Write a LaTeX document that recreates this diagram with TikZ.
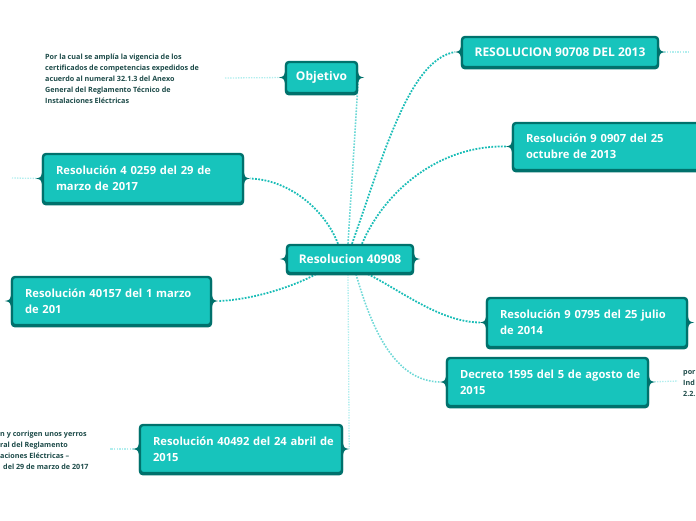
\documentclass[tikz,border=0pt]{standalone}
\usepackage{fontspec}
\setmainfont{Open Sans}
\usetikzlibrary{calc,backgrounds}
\definecolor{boxfill}{HTML}{17C4BC}
\definecolor{boxline}{HTML}{00716C}
\definecolor{ctxt}{HTML}{1C4A48}
\definecolor{lnka}{HTML}{1ABDB7}
\definecolor{lnkb}{HTML}{6DD8D6}
\definecolor{lnkc}{HTML}{B2EEEE}
\newcommand\bnotch[1]{%
  \fill[boxline] ($(#1.west)+(0.5,-6.5)$) .. controls ($(#1.west)+(-1,-1)$) .. ($(#1.west)+(-6,0)$)
     .. controls ($(#1.west)+(-1,1)$) .. ($(#1.west)+(0.5,6.5)$) -- cycle;
  \fill[boxline] ($(#1.east)+(-0.5,-6.5)$) .. controls ($(#1.east)+(1,-1)$) .. ($(#1.east)+(6,0)$)
     .. controls ($(#1.east)+(1,1)$) .. ($(#1.east)+(-0.5,6.5)$) -- cycle;}
\tikzset{
  bx/.style={fill=boxfill, draw=boxline, line width=2.4pt, rounded corners=3pt, text=white,
    preaction={draw=boxline, line width=2.4pt, transform canvas={yshift=-1.2pt}},
    font=\bfseries\fontsize{11.2}{16}\selectfont, align=left, inner xsep=13pt, inner ysep=0pt},
  bxc/.style={bx, align=center, inner xsep=0pt, font=\bfseries\fontsize{12}{16}\selectfont},
  note/.style={text=ctxt, font=\bfseries\fontsize{7.2}{11}\selectfont, align=left, inner sep=0pt},
  lka/.style={line width=1.8pt, dash pattern=on 1.8pt off 1.4pt, draw=lnka},
  lkb/.style={line width=1.6pt, dash pattern=on 1.6pt off 1.4pt, draw=lnkb},
  lkc/.style={line width=1.3pt, dash pattern=on 1.4pt off 1.2pt, draw=lnkc},
}
\begin{document}
\begin{tikzpicture}[x=1pt,y=-1pt]
\useasboundingbox (0,0) rectangle (696,520);
% boxes
\node[bxc, minimum width=71, minimum height=31] (obj) at (321.5,77.5) {Objetivo};
\node[bxc, minimum width=126, minimum height=28] (cen) at (350,259) {Resolucion 40908};
\node[bxc, minimum width=196, minimum height=30] (r90708) at (560,52) {RESOLUCION 90708 DEL 2013};
\node[bx, text width=173, minimum height=47] (r0907) at (612.5,146.5) {\mbox{Resolución 9 0907 del 25}\\\mbox{octubre de 2013}};
\node[bx, text width=174, minimum height=49] (r0259) at (143,178.5) {\mbox{Resolución 4 0259 del 29 de}\\\mbox{marzo de 2017}};
\node[bx, text width=173, minimum height=48] (r40157) at (111.5,301) {\mbox{Resolución 40157 del 1 marzo}\\\mbox{de 201}};
\node[bx, text width=174, minimum height=49] (r0795) at (587,322.5) {\mbox{Resolución 9 0795 del 25 julio}\\\mbox{de 2014}};
\node[bx, text width=175, minimum height=48] (dec) at (547.5,382) {\mbox{Decreto 1595 del 5 de agosto de}\\\mbox{2015}};
\node[bx, text width=176, minimum height=48] (r40492) at (241,449) {\mbox{Resolución 40492 del 24 abril de}\\\mbox{2015}};
\foreach \n in {obj,cen,r90708,r0907,r0259,r40157,r0795,dec,r40492} {\bnotch{\n}}
% notes
\node[note, anchor=base west] (n1) at (45,103) {Por la cual se amplía la vigencia de los\\certificados de competencias expedidos de\\acuerdo al numeral 32.1.3 del Anexo\\General del Reglamento Técnico de\\Instalaciones Eléctricas};
\node[note, anchor=base west] (n2) at (0,469) {n y corrigen unos yerros\\ral del Reglamento\\aciones Eléctricas –\\\hspace{3pt}del 29 de marzo de 2017};
\node[note, anchor=base west] (n3) at (683,396) {por\\Ind\\2.2.};
\coordinate (e0259) at (12,178);
\coordinate (e40492) at (110,449);
\coordinate (e90708) at (690,52);
\coordinate (edec) at (678,381);
\coordinate (en1) at (225,78);
% connectors
\begin{scope}[on background layer]
\draw[lkb] ($(cen.north)+(-2,0)$) -- ($(obj.east)+(0,3)$);
\draw[lka] ($(cen.north)+(2,0)$) .. controls (385,150) and (410,60) .. ($(r90708.west)+(-6,0)$);
\draw[lka] ($(cen.north)+(12,0)$) .. controls (385,190) and (440,145) .. ($(r0907.west)+(-6,0)$);
\draw[lka] ($(cen.north)+(-12,0)$) .. controls (325,210) and (290,180) .. ($(r0259.east)+(6,0)$);
\draw[lka] ($(cen.south)+(-34,0)$) .. controls (290,288) and (250,300) .. ($(r40157.east)+(6,0)$);
\draw[lka] ($(cen.south)+(18,0)$) .. controls (400,290) and (440,322) .. ($(r0795.west)+(-6,0)$);
\draw[lkb] ($(cen.south)+(6,0)$) .. controls (372,330) and (395,381) .. ($(dec.west)+(-6,0)$);
\draw[lkc] ($(cen.south)+(-2,0)$) -- ($(r40492.east)+(6,0)$);
\draw[lkc] (r0259.west) -- (e0259);
\draw[lkc] (r40492.west) -- (e40492);
\draw[lkc] (r90708.east) -- (e90708);
\draw[lkc] (dec.east) -- (edec);
\draw[lkc] (en1) -- (obj.west);
\end{scope}
\end{tikzpicture}
\end{document}
